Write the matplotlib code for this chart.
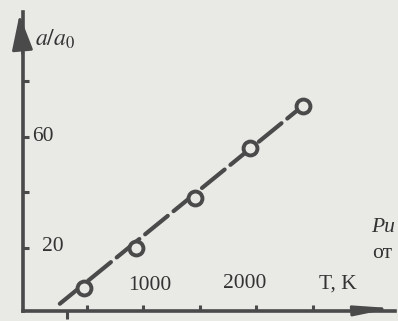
import numpy as np
import matplotlib
matplotlib.use("Agg")
import matplotlib.pyplot as plt

plt.rcParams['font.family'] = ['Liberation Serif', 'DejaVu Serif']
plt.rcParams['mathtext.fontset'] = 'stix'

# data
T = [470, 930, 1460, 1940, 2410]          # K
ratio = [5.7, 20.0, 38.0, 56.0, 71.0]     # a/a0
fit_T = [260, 2410]
fit_ratio = [0.0, 71.0]

xticks = [500, 1000, 1500, 2000, 2500]
yticks = [20, 40, 60, 80]

bg = '#e9e9e6'
ink = '#4a4a4a'

fig = plt.figure(figsize=(3.98, 3.21), dpi=100, facecolor=bg)
ax = fig.add_axes([0.0578, 0.0312, 0.9347, 0.9315], facecolor=bg)
ax.set_xlim(-66, 3226)
ax.set_ylim(-2.6, 104.7)

# line and points
ax.plot(fit_T, fit_ratio, color=ink, lw=3.0, dashes=(7, 1.8),
        dash_capstyle='round', zorder=2)
ax.plot(T, ratio, 'o', ms=10, mfc=bg, mec=ink, mew=2.8, zorder=3)

# axes look
for s in ['top', 'right']:
    ax.spines[s].set_visible(False)
for s in ['left', 'bottom']:
    ax.spines[s].set_color(ink)
    ax.spines[s].set_linewidth(2.6)

ax.set_xticks(xticks)
ax.set_yticks(yticks)
ax.set_xticklabels([])
ax.set_yticklabels([])
ax.set_xticks([320], minor=True)
ax.tick_params(which='major', direction='in', length=4, width=2.2, color=ink)
ax.tick_params(axis='x', which='minor', direction='out', length=6, width=2.2, color=ink)

# arrow heads
ax.annotate('', xy=(-0.01, 1.0), xytext=(0, 0.85), xycoords='axes fraction',
            arrowprops=dict(arrowstyle='-|>,head_length=2.2,head_width=0.65',
                            fc=ink, ec=ink, lw=2.0), annotation_clip=False)
ax.annotate('', xy=(1.0, 0.01), xytext=(0.88, 0), xycoords='axes fraction',
            arrowprops=dict(arrowstyle='-|>,head_length=2.2,head_width=0.3',
                            fc=ink, ec=ink, lw=2.0), annotation_clip=False)

fs = 15.5
tc = '#333333'
ax.text(13, 60, '60', ha='left', va='center', fontsize=fs, color=tc)
ax.text(102, 20.5, '20', ha='left', va='center', fontsize=fs, color=tc)
ax.text(1058, 6.4, '1000', ha='center', va='center', fontsize=fs, color=tc)
ax.text(1898, 7.1, '2000', ha='center', va='center', fontsize=fs, color=tc)
ax.text(2721, 7.1, 'T, K', ha='center', va='center', fontsize=fs, color=tc)
ax.text(40, 94.7, r'$a/a_0$', ha='left', va='center', fontsize=17, color=tc)
ax.text(3013, 27.2, 'Ри', ha='left', va='center', fontsize=fs, color=tc,
        style='italic', clip_on=False)
ax.text(3022, 18.2, 'от', ha='left', va='center', fontsize=fs, color=tc, clip_on=False)

fig.savefig('out.png', dpi=100, facecolor=bg)
